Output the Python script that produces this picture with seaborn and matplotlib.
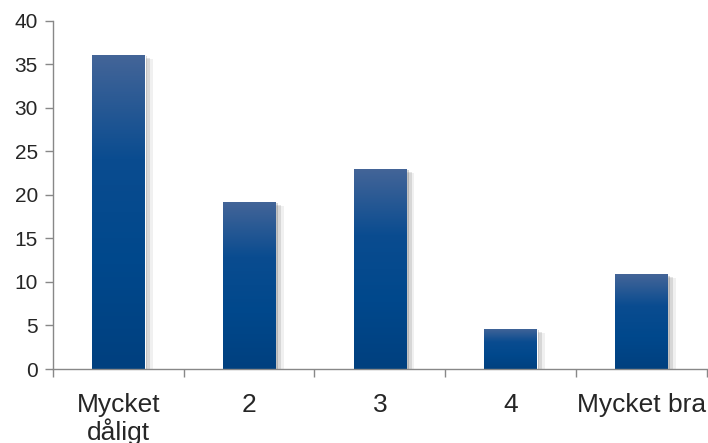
import matplotlib.pyplot as plt
import matplotlib.patheffects as pe
import numpy as np
import pandas as pd
import seaborn as sns
from matplotlib.colors import LinearSegmentedColormap

# Svarsfördelning (procent)
categories = ["Mycket\ndåligt", "2", "3", "4", "Mycket bra"]
values = [36.1, 19.2, 23.0, 4.6, 10.9]
y_ticks = [0, 5, 10, 15, 20, 25, 30, 35, 40]

df = pd.DataFrame({"kategori": categories, "andel": values})

sns.set_style("white")
plt.rcParams["font.family"] = ["Liberation Sans", "DejaVu Sans"]

fig = plt.figure(figsize=(7.08, 4.43), dpi=100)
ax = fig.add_axes([0.075, 0.167, 0.923, 0.786])

sns.barplot(data=df, x="kategori", y="andel", width=0.4, color="#0a4c90", ax=ax)

# gradient + shadow on each bar
grad = LinearSegmentedColormap.from_list("bar", ["#00407f", "#00488c", "#0a4c90", "#446598"])
img = np.linspace(0, 1, 256).reshape(-1, 1)
for p in ax.patches:
    x0, w, h = p.get_x(), p.get_width(), p.get_height()
    p.set_path_effects([
        pe.SimplePatchShadow(offset=(6, -3), shadow_rgbFace="#000000", alpha=0.06),
        pe.SimplePatchShadow(offset=(4, -2), shadow_rgbFace="#000000", alpha=0.10),
        pe.SimplePatchShadow(offset=(2, -1), shadow_rgbFace="#000000", alpha=0.16),
        pe.Normal(),
    ])
    im = ax.imshow(img, cmap=grad, extent=(x0, x0 + w, 0, h), origin="lower",
                   aspect="auto", zorder=p.get_zorder() + 0.1)
    im.set_clip_path(p)

ax.set_xlim(-0.5, 4.5)
ax.set_ylim(0, 40)
ax.set_yticks(y_ticks)
ax.set_xticks(np.arange(-0.5, 5, 1))
ax.set_xticklabels([])
ax.set_xticks(range(len(categories)), labels=categories, minor=True)
for lbl in ax.get_xticklabels(minor=True):
    lbl.set_linespacing(1.1)
ax.tick_params(axis="x", which="minor", bottom=True, length=0, pad=17, labelsize=19)
ax.tick_params(axis="x", which="major", bottom=True, length=6, width=1, color="#888888", direction="out")
ax.tick_params(axis="y", left=True, length=6, width=1, color="#888888", direction="out", labelsize=15, pad=5)
ax.set_xlabel("")
ax.set_ylabel("")

for side in ["top", "right"]:
    ax.spines[side].set_visible(False)
for side in ["left", "bottom"]:
    ax.spines[side].set_color("#888888")
    ax.spines[side].set_linewidth(1)

fig.savefig("out.png", dpi=100)
